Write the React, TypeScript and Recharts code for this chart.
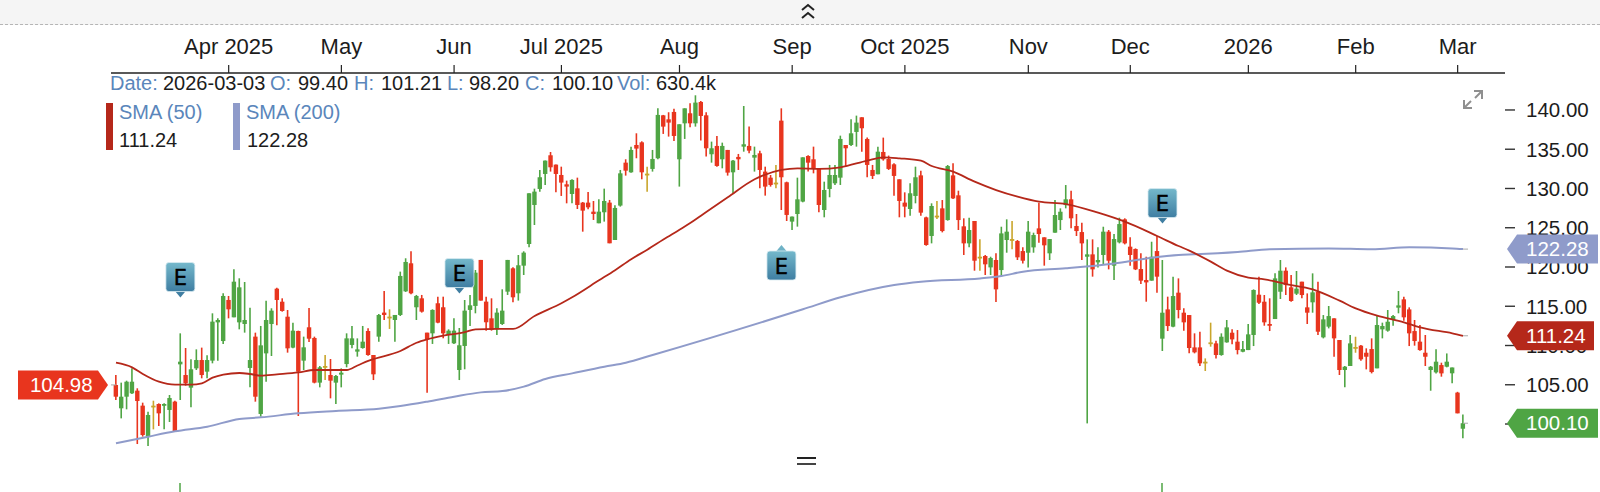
import React from "react";
import { ComposedChart, Bar, Line, XAxis, YAxis, ReferenceDot } from "recharts";

const opens = [
  104.97,102.00,103.48,103.91,104.25,102.34,98.39,102.34,102.55,102.34,
  101.79,102.85,107.60,106.24,104.63,107.09,108.15,106.67,108.07,112.95,
  110.57,115.80,113.59,112.95,112.74,107.14,111.13,101.28,109.00,112.74,
  117.24,115.58,113.67,109.73,111.85,108.07,112.32,110.96,105.27,107.39,
  106.24,105.27,106.29,107.64,110.07,109.22,109.68,111.85,108.79,111.13,
  114.19,113.68,113.25,113.89,116.90,120.47,114.87,116.01,111.64,111.55,
  115.38,114.87,111.34,110.28,106.88,109.94,114.53,115.04,120.90,115.59,
  113.46,112.06,112.74,116.86,119.83,116.65,120.17,122.93,127.90,129.94,
  131.85,134.23,133.04,131.72,130.53,129.30,130.02,128.20,128.20,127.05,
  125.57,126.97,128.20,123.44,127.82,133.29,132.06,135.54,135.88,131.89,
  132.49,133.85,139.32,138.81,139.75,133.72,138.30,139.58,138.30,141.02,
  139.32,134.36,135.42,133.72,134.91,132.06,134.02,135.33,135.42,133.93,
  134.48,132.15,131.38,130.75,138.64,130.79,125.78,126.75,128.33,134.14,
  133.72,132.49,127.26,129.94,130.66,131.38,135.54,135.54,137.20,139.07,
  136.31,132.36,131.81,134.65,133.76,133.08,131.17,128.20,127.39,129.05,
  131.67,126.32,123.95,126.54,127.47,125.98,131.67,129.13,125.18,123.01,
  125.86,121.31,121.40,119.95,120.89,119.61,123.44,123.56,123.31,122.03,
  121.82,122.50,124.92,123.78,121.74,124.37,125.98,127.89,128.62,125.22,
  124.45,121.31,121.61,120.59,121.53,124.50,120.17,123.14,126.07,122.59,
  122.29,119.74,118.34,118.26,122.03,110.87,114.60,112.40,116.73,114.18,
  113.88,109.76,109.76,107.94,110.40,110.27,108.79,110.40,111.63,110.49,
  109.21,109.42,111.34,116.47,115.58,112.74,113.37,116.85,119.53,117.41,
  116.60,118.13,114.86,115.50,116.85,111.04,112.40,113.46,110.70,106.88,
  107.39,109.81,109.98,109.08,109.55,107.09,112.06,111.89,113.25,114.82,
  115.88,114.60,111.84,110.49,109.08,106.88,106.58,107.51,107.30,106.46,104.00,99.40,
];

const highs = [
  106.24,105.27,105.52,107.09,104.55,102.72,101.57,102.97,102.63,102.63,
  103.70,102.97,111.55,109.68,108.24,109.51,109.73,108.75,114.10,113.46,
  116.65,116.31,119.70,118.56,118.09,114.82,111.64,112.49,115.71,114.74,
  117.37,116.01,114.52,112.91,111.89,111.13,114.78,111.13,107.39,108.79,
  108.28,106.24,107.09,111.55,112.49,110.91,112.49,112.19,108.79,114.02,
  116.95,114.61,113.89,119.41,121.11,122.00,116.44,116.44,111.64,114.61,
  116.22,116.22,112.06,113.46,112.23,115.80,116.44,119.62,120.90,116.22,
  116.01,114.74,117.16,120.90,119.96,121.53,122.00,129.39,129.98,132.36,
  133.55,134.65,133.04,132.78,131.00,131.17,131.38,128.28,129.56,128.41,
  128.62,129.98,128.54,127.86,132.36,133.72,135.33,137.03,136.01,132.78,
  134.91,140.21,139.37,139.71,140.17,138.18,140.21,140.85,141.87,141.15,
  139.71,135.97,136.69,135.84,134.91,133.63,134.40,140.51,137.88,135.33,
  134.82,132.78,131.72,133.00,140.21,130.87,126.42,131.38,133.97,134.23,
  135.33,132.49,130.87,133.00,133.00,136.73,135.54,138.81,139.28,139.07,
  136.48,133.00,135.33,136.48,134.19,133.21,131.17,129.51,130.66,132.78,
  132.27,126.41,128.11,128.40,128.53,132.99,133.20,129.72,126.20,126.28,
  125.86,123.52,121.53,121.31,121.74,125.13,126.07,125.86,123.44,122.50,
  125.86,124.37,128.19,123.78,123.56,128.53,127.47,130.44,129.72,126.75,
  125.64,123.52,123.52,122.50,125.13,124.71,124.20,126.28,126.20,123.78,
  122.37,121.74,121.31,123.22,123.95,120.89,116.22,118.77,118.55,114.73,
  113.88,111.55,111.76,108.36,112.91,110.61,111.55,113.25,112.06,111.97,
  110.57,112.74,117.15,118.77,116.43,116.01,119.19,120.89,119.95,118.98,
  119.49,118.13,116.64,119.19,118.13,113.88,115.03,113.46,110.70,107.39,
  111.34,111.12,110.06,109.64,110.91,113.75,112.91,114.52,113.88,116.94,
  116.22,114.86,113.25,112.61,111.34,107.39,109.51,107.81,108.99,107.20,104.10,101.21,
];

const lows = [
  103.06,100.72,101.87,103.82,97.45,98.39,97.03,99.32,99.75,99.32,
  100.26,98.98,103.06,104.88,102.13,106.88,105.82,105.82,107.73,108.07,
  110.19,113.46,113.59,112.06,111.64,104.67,102.85,100.94,105.39,108.66,
  112.57,114.31,109.09,109.64,101.02,106.88,110.45,105.18,104.67,105.61,
  103.27,102.55,104.67,107.22,109.64,108.58,109.60,108.71,105.60,110.49,
  113.25,112.11,110.49,113.76,116.82,116.52,113.25,114.19,103.99,110.20,
  112.83,110.92,110.20,110.20,105.60,106.97,112.49,114.10,115.72,111.89,
  111.89,111.34,112.62,116.44,115.50,115.72,118.98,122.51,125.35,129.60,
  130.45,132.15,129.51,129.05,128.11,128.11,127.39,124.50,127.35,125.99,
  125.57,125.78,123.02,123.44,127.69,131.64,132.02,133.85,131.17,129.60,
  132.15,133.72,136.95,136.61,136.05,130.24,136.31,137.79,137.88,136.10,
  134.06,133.29,132.78,132.57,131.64,129.39,132.36,134.69,134.48,132.15,
  130.02,129.09,130.24,130.02,127.26,125.86,124.72,125.14,128.24,132.15,
  131.93,126.97,126.33,128.88,130.45,130.45,132.87,135.42,135.33,134.69,
  131.43,131.21,131.81,133.55,132.36,129.09,126.33,126.33,126.54,128.11,
  126.54,122.71,123.01,126.11,124.41,125.90,128.66,124.71,121.53,122.50,
  119.53,119.53,118.98,118.98,115.54,118.85,121.82,122.25,120.89,120.46,
  119.95,121.82,123.10,120.17,120.89,124.37,124.71,127.47,124.92,123.95,
  120.89,100.08,118.77,119.95,120.25,119.70,118.34,123.01,122.88,120.17,
  119.61,117.83,115.58,118.26,116.73,109.30,111.84,112.31,113.46,111.89,
  109.00,109.00,107.39,106.75,109.85,108.36,108.70,110.36,110.15,108.87,
  109.13,109.42,109.93,115.28,112.52,111.84,113.37,115.92,116.43,115.58,
  116.43,116.01,112.74,114.18,111.34,110.91,112.18,108.57,106.24,104.67,
  107.39,109.08,108.07,106.96,106.45,107.09,110.91,111.76,112.52,114.10,
  113.16,109.93,109.98,109.34,107.39,104.24,106.45,106.03,107.22,105.20,101.36,98.20,
];

const closes = [
  103.48,103.48,105.39,105.39,102.93,98.60,101.15,102.34,101.36,102.55,
  103.31,99.07,107.94,105.18,106.97,108.15,106.24,108.15,113.04,113.25,
  116.31,114.61,118.13,117.41,113.25,108.15,103.48,110.02,113.25,114.44,
  115.80,114.40,109.64,111.89,106.67,109.77,110.87,105.27,107.22,107.39,
  105.52,106.12,106.54,110.91,110.91,109.51,110.49,108.79,106.33,113.89,
  113.89,113.68,113.89,118.86,120.64,116.65,116.31,114.31,110.79,114.53,
  112.91,111.55,111.89,111.89,110.03,114.44,115.12,119.28,115.72,112.96,
  111.98,114.19,114.44,120.90,116.14,120.22,121.83,129.39,129.60,131.43,
  133.55,132.70,131.85,130.75,130.24,131.09,127.90,127.18,127.60,126.75,
  127.05,128.41,123.02,127.52,131.93,132.27,134.91,135.08,132.06,131.89,
  133.76,139.37,137.88,138.39,136.69,138.18,140.21,138.30,140.94,139.24,
  135.12,135.12,132.87,135.42,132.02,133.55,133.72,135.63,134.82,134.27,
  132.36,130.24,130.45,130.75,131.43,126.63,126.42,128.62,133.97,133.29,
  132.57,127.90,129.81,131.72,131.72,136.31,135.12,137.03,138.39,137.67,
  133.00,131.60,134.69,133.72,132.49,131.60,128.41,127.69,129.39,131.43,
  126.92,122.80,127.77,126.54,124.58,132.86,128.74,125.98,123.01,124.71,
  120.80,121.31,120.34,121.14,117.15,124.28,124.50,123.56,121.23,120.80,
  124.50,124.07,124.20,122.76,123.56,126.62,127.04,128.62,126.20,124.58,
  123.01,121.61,119.70,120.89,124.50,120.80,123.56,125.47,123.01,121.53,
  119.70,118.26,118.04,121.31,118.77,114.18,112.48,116.30,114.52,112.95,
  109.68,109.13,107.73,107.94,110.40,108.79,111.12,112.31,110.78,109.42,
  109.55,111.42,117.07,115.45,112.95,112.52,118.55,119.53,117.70,115.67,
  117.24,116.43,114.18,116.77,111.76,113.33,113.75,110.91,106.88,107.30,
  110.27,109.81,108.24,108.57,106.62,112.61,112.48,113.03,113.75,115.11,
  113.59,111.55,110.57,109.42,108.57,107.30,107.94,106.45,107.94,107.20,101.36,100.10,
];

// SMA readings taken at the candles where the curve could be read, as [candle, value]
const sma50Readings = [
  [0,107.81],[3,107.22],[5,106.37],[8,105.39],[11,105.01],[14,105.01],[16,105.18],[18,105.90],[20,106.29],
  [23,106.50],[25,106.37],[27,106.16],[30,106.33],[34,106.58],[37,106.88],[40,106.88],[43,106.88],[45,107.45],
  [47,108.05],[53,109.30],[56,110.35],[58,110.79],[61,111.26],[65,111.70],[67,112.05],[71,112.11],[74,112.11],
  [78,113.76],[83,115.38],[85,116.14],[90,118.30],[93,119.60],[96,121.00],[99,122.20],[102,123.50],[105,124.75],
  [107,125.60],[109,126.54],[114,128.88],[119,131.17],[124,132.36],[127,132.57],[131,132.49],[135,132.70],
  [140,133.55],[143,133.97],[146,133.84],[150,133.54],[152,132.86],[156,132.14],[160,130.87],[164,129.80],
  [168,128.96],[172,128.32],[177,128.02],[183,126.92],[188,125.77],[194,123.95],[198,122.67],[200,122.08],
  [204,120.68],[207,119.53],[211,118.64],[214,118.43],[218,117.83],[223,117.15],[228,115.71],[231,114.73],
  [235,113.80],[240,112.95],[243,112.31],[249,111.55],[251,111.24],
];

const sma200Readings = [
  [0,97.54],[6,98.39],[11,99.07],[17,99.66],[23,100.64],[27,100.85],[34,101.36],[41,101.66],[49,101.95],
  [53,102.29],[58,102.85],[63,103.48],[68,104.03],[72,104.20],[76,104.76],[80,105.73],[85,106.45],[91,107.30],
  [95,107.81],[100,108.79],[128,114.61],[135,116.14],[145,117.71],[150,118.13],[161,118.55],[165,118.85],
  [169,119.40],[177,119.83],[186,120.46],[193,121.19],[198,121.53],[201,121.61],[209,121.91],[215,122.25],
  [226,122.37],[234,122.25],[241,122.50],[249,122.37],[251,122.28],
];

const tickIndexes = [21, 42, 63, 83, 105, 126, 147, 170, 189, 211, 231, 250];
const tickLabels = ["Apr 2025", "May", "Jun", "Jul 2025", "Aug", "Sep", "Oct 2025", "Nov", "Dec", "2026", "Feb", "Mar"];
const priceTicks = [100, 105, 110, 115, 120, 125, 130, 135, 140];

const earningsIndexes = [12, 64, 124, 195];
const earningsPrices = [116.11, 116.62, 122.8, 125.53];
const earningsBelow = [false, false, true, false];

const lastSma50 = 111.24;
const lastSma200 = 122.28;
const lastClose = 100.1;
const firstValue = 104.98;

const FONT = '"Liberation Sans", Arial, sans-serif';
const GREEN = "#4fa544";
const RED = "#e8351e";
const GOLD = "#c9a52b";
const DARKRED = "#b5281a";
const BLUE = "#8f9bca";
const LABEL = "#5a86bb";
const INK = "#1c1c1c";

const sma50ByIndex = new Map(sma50Readings.map(([i, v]) => [i, v]));
const sma200ByIndex = new Map(sma200Readings.map(([i, v]) => [i, v]));

const rows = opens.map((o, i) => ({
  idx: i,
  open: o,
  high: highs[i],
  low: lows[i],
  close: closes[i],
  range: [lows[i], highs[i]],
  sma50: sma50ByIndex.has(i) ? sma50ByIndex.get(i) : null,
  sma200: sma200ByIndex.has(i) ? sma200ByIndex.get(i) : null,
}));

function Candle(props: any) {
  const { x, y, width, height, payload } = props;
  const { open, close, high, low } = payload;
  const colour = close > open ? GREEN : close < open ? RED : GOLD;
  const perUnit = height / (high - low);
  const cx = x + width / 2;
  const top = y + (high - Math.max(open, close)) * perUnit;
  const bodyH = Math.max(1.8, Math.abs(open - close) * perUnit);
  return (
    <g>
      <line x1={cx} x2={cx} y1={y} y2={y + height} stroke={colour} strokeWidth={1.6} />
      <rect x={cx - 2.2} y={top} width={4.4} height={bodyH} fill={colour} />
    </g>
  );
}

function RightBadge(props: any) {
  const { cx, cy, fill, label, bodyEnd } = props;
  const tip = cx + 44;
  const h = 14.5;
  return (
    <g>
      <line x1={cx} x2={cx + 5} y1={cy} y2={cy} stroke="#aaa" strokeWidth={1} />
      <polygon
        points={`${tip},${cy} ${tip + 10},${cy - h} ${bodyEnd},${cy - h} ${bodyEnd},${cy + h} ${tip + 10},${cy + h}`}
        fill={fill}
      />
      <text x={tip + 19} y={cy + 7} fill="#fff" fontSize={20.5} fontFamily={FONT}>{label}</text>
    </g>
  );
}

function LeftBadge(props: any) {
  const { cx, cy, label } = props;
  const h = 14.5;
  return (
    <g>
      <line x1={cx - 5} x2={cx} y1={cy} y2={cy} stroke="#aaa" strokeWidth={1} />
      <polygon
        points={`${cx - 8},${cy} ${cx - 18},${cy - h} ${cx - 98},${cy - h} ${cx - 98},${cy + h} ${cx - 18},${cy + h}`}
        fill={RED}
      />
      <text x={cx - 86} y={cy + 7} fill="#fff" fontSize={20.5} fontFamily={FONT}>{label}</text>
    </g>
  );
}

function EarningsMark(props: any) {
  const { cx, cy, below } = props;
  const w = 14.5;
  const side = 29;
  const boxTop = below ? cy + 6 : cy - 6 - side;
  const arrow = below
    ? `${cx - 5},${cy + 6} ${cx},${cy} ${cx + 5},${cy + 6}`
    : `${cx - 5},${cy - 6} ${cx},${cy} ${cx + 5},${cy - 6}`;
  return (
    <g>
      <polygon points={arrow} fill={below ? "#6fb2c6" : "#3f7ea2"} />
      <rect x={cx - w} y={boxTop} width={w * 2} height={side} rx={3} fill="url(#earnFill)" stroke="#d9ebf1" strokeWidth={0.8} />
      <text x={cx} y={boxTop + 22.5} textAnchor="middle" fontSize={21} fontFamily='"DejaVu Sans", sans-serif' fill="#000" stroke="#000" strokeWidth={0.4}>E</text>
    </g>
  );
}

const headerRow: [number, string, string][] = [
  [110, "Date:", LABEL], [163, "2026-03-03", INK],
  [270, "O:", LABEL], [298, "99.40", INK],
  [354, "H:", LABEL], [381, "101.21", INK],
  [447, "L:", LABEL], [469, "98.20", INK],
  [525, "C:", LABEL], [552, "100.10", INK],
  [617, "Vol:", LABEL], [656, "630.4k", INK],
];

export default function App() {
  return (
    <div style={{ position: "absolute", left: 0, top: 0, width: 1600, height: 492, overflow: "hidden", background: "#fff" }}>
      <div style={{ position: "absolute", left: 0, top: 0, width: 1600, height: 24, background: "#f5f5f5", borderBottom: "1px dashed #b5b5b5" }} />
      <ComposedChart
        width={1600}
        height={492}
        data={rows}
        margin={{ top: 0, right: 0, bottom: 46, left: 111 }}
        style={{ position: "absolute", left: 0, top: 0 }}
      >
        <defs>
          <linearGradient id="earnFill" x1="0" y1="0" x2="0" y2="1">
            <stop offset="0%" stopColor="#74b8cb" />
            <stop offset="100%" stopColor="#3f7ea2" />
          </linearGradient>
        </defs>
        <XAxis
          dataKey="idx"
          orientation="top"
          height={73}
          interval={0}
          ticks={tickIndexes}
          tickFormatter={(v: number) => tickLabels[tickIndexes.indexOf(v)]}
          padding={{ left: 2.3, right: 39.3 }}
          tickSize={8}
          tickMargin={11}
          axisLine={{ stroke: "#222", strokeWidth: 1.4 }}
          tickLine={{ stroke: "#222", strokeWidth: 1.2 }}
          tick={{ fill: INK, fontSize: 22, fontFamily: FONT }}
        />
        <YAxis
          orientation="right"
          width={95}
          domain={[97.2, 144.71]}
          allowDataOverflow
          ticks={priceTicks}
          tickFormatter={(v: number) => v.toFixed(2)}
          tickSize={10}
          tickMargin={11}
          axisLine={false}
          tickLine={{ stroke: "#333", strokeWidth: 1.4 }}
          tick={{ fill: INK, fontSize: 20.5, fontFamily: FONT, textAnchor: "start" }}
        />
        <Bar dataKey="range" shape={Candle} isAnimationActive={false} />
        <Line dataKey="sma200" type="monotone" connectNulls dot={false} stroke={BLUE} strokeWidth={2} isAnimationActive={false} />
        <Line dataKey="sma50" type="monotone" connectNulls dot={false} stroke={DARKRED} strokeWidth={1.8} isAnimationActive={false} />
        {earningsIndexes.map((ix, k) => (
          <ReferenceDot
            key={ix}
            x={ix}
            y={earningsPrices[k]}
            ifOverflow="visible"
            zIndex={3000}
            shape={(p: any) => <EarningsMark {...p} below={earningsBelow[k]} />}
          />
        ))}
        <ReferenceDot x={0} y={firstValue} ifOverflow="visible" zIndex={3000} shape={(p: any) => <LeftBadge {...p} label={firstValue.toFixed(2)} />} />
        <ReferenceDot x={251} y={lastSma200} ifOverflow="visible" zIndex={3000} shape={(p: any) => <RightBadge {...p} fill={BLUE} bodyEnd={1598} label={lastSma200.toFixed(2)} />} />
        <ReferenceDot x={251} y={lastSma50} ifOverflow="visible" zIndex={3000} shape={(p: any) => <RightBadge {...p} fill={DARKRED} bodyEnd={1594} label={lastSma50.toFixed(2)} />} />
        <ReferenceDot x={251} y={lastClose} ifOverflow="visible" zIndex={3000} shape={(p: any) => <RightBadge {...p} fill={GREEN} bodyEnd={1598} label={lastClose.toFixed(2)} />} />
      </ComposedChart>

      <svg width={1600} height={492} style={{ position: "absolute", left: 0, top: 0, pointerEvents: "none" }}>
        <polyline points="802,10 808,5 814,10" fill="none" stroke="#222" strokeWidth={2} />
        <polyline points="802,18 808,13 814,18" fill="none" stroke="#222" strokeWidth={2} />
        {headerRow.map(([x, t, c]) => (
          <text key={t + x} x={x} y={90} fontSize={20} fontFamily={FONT} fill={c}>{t}</text>
        ))}
        <rect x={106} y={103} width={7} height={47} fill={DARKRED} />
        <text x={119} y={119} fontSize={20} fontFamily={FONT} fill={LABEL}>SMA (50)</text>
        <text x={119} y={147} fontSize={20} fontFamily={FONT} fill={INK}>111.24</text>
        <rect x={233} y={103} width={7} height={47} fill={BLUE} />
        <text x={246} y={119} fontSize={20} fontFamily={FONT} fill={LABEL}>SMA (200)</text>
        <text x={247} y={147} fontSize={20} fontFamily={FONT} fill={INK}>122.28</text>
        <g stroke="#8f8f8f" strokeWidth={2} fill="none">
          <line x1={1481} y1={92} x2={1475} y2={98} />
          <polyline points="1474,91 1482,91 1482,99" />
          <line x1={1465} y1={107} x2={1471} y2={101} />
          <polyline points="1464,100 1464,108 1472,108" />
        </g>
        <rect x={797} y={457} width={19} height={2} fill="#222" />
        <rect x={797} y={463} width={19} height={2} fill="#444" />
        <line x1={180} x2={180} y1={483} y2={492} stroke={GREEN} strokeWidth={1.5} />
        <line x1={1162} x2={1162} y1={483} y2={492} stroke={GREEN} strokeWidth={1.5} />
      </svg>
    </div>
  );
}
